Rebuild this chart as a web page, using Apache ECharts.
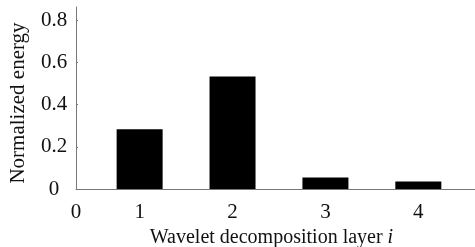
<!DOCTYPE html>
<html>
<head>
<meta charset="utf-8">
<script src="https://cdn.jsdelivr.net/npm/echarts@6/dist/echarts.min.js"></script>
<style>
  html, body { margin: 0; padding: 0; background: #fff; }
  #chart { width: 475px; height: 247px; }
</style>
</head>
<body>
<div id="chart"></div>
<script>
  // 数据
  var layers = [1, 2, 3, 4];
  var energy = [0.284, 0.534, 0.055, 0.036];
  var xTickValues = [0.315, 1, 2, 3, 4];
  var xTickLabels = ['0', '1', '2', '3', '4'];
  var yTicks = [0, 0.2, 0.4, 0.6, 0.8];

  var font = 'Liberation Serif';
  var chart = echarts.init(document.getElementById('chart'));

  chart.setOption({
    animation: false,
    grid: { left: 76, right: 0, top: 7, bottom: 58, outerBoundsMode: 'none', containLabel: false },
    xAxis: {
      type: 'value',
      min: 0.315,
      max: 4.61,
      name: 'Wavelet decomposition layer {i|i}',
      nameLocation: 'middle',
      nameGap: 39,
      nameTextStyle: {
        color: '#111', fontFamily: font, fontSize: 20,
        padding: [0, 8, 0, 0],
        rich: { i: { fontStyle: 'italic', fontFamily: font, fontSize: 20, color: '#111' } }
      },
      axisLine: { show: true, lineStyle: { color: '#777', width: 1 } },
      axisTick: { show: false },
      splitLine: { show: false },
      axisLabel: {
        customValues: xTickValues,
        margin: 13,
        color: '#111', fontFamily: font, fontSize: 21,
        formatter: function (v) {
          return xTickLabels[xTickValues.indexOf(v)];
        }
      }
    },
    yAxis: {
      type: 'value',
      min: 0,
      max: 0.864,
      name: 'Normalized energy',
      nameLocation: 'middle',
      nameGap: 47,
      nameTextStyle: { color: '#111', fontFamily: font, fontSize: 21, padding: [0, 10, 0, 0] },
      axisLine: { show: true, lineStyle: { color: '#777', width: 1 } },
      axisTick: { show: true, inside: true, length: 2, customValues: yTicks, lineStyle: { color: '#777' } },
      splitLine: { show: false },
      axisLabel: {
        customValues: yTicks,
        align: 'center',
        margin: 22,
        color: '#111', fontFamily: font, fontSize: 21,
        formatter: function (v) { return v === 0 ? '0' : v.toFixed(1); }
      }
    },
    series: [{
      type: 'bar',
      barWidth: 46,
      itemStyle: { color: '#000' },
      data: layers.map(function (l, i) { return [l, energy[i]]; })
    }]
  });
</script>
</body>
</html>
